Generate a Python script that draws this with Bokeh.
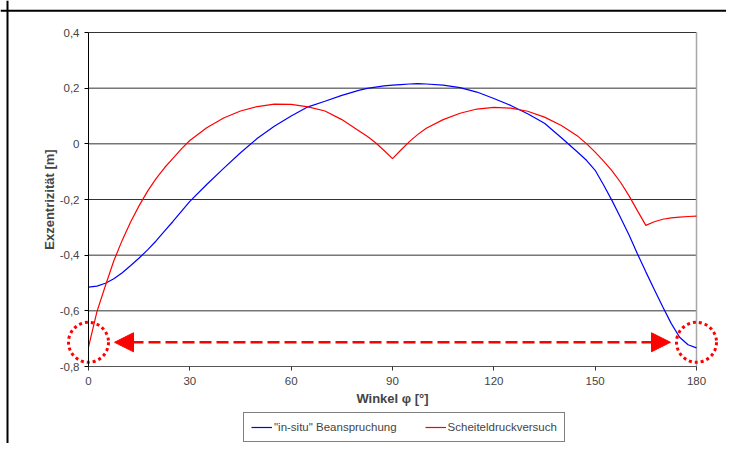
from bokeh.plotting import figure
from bokeh.models import (Range1d, FixedTicker, CustomJSTickFormatter, Legend, LegendItem,
                          Arrow, NormalHead, Span)
from bokeh.embed import file_html
from bokeh.resources import INLINE

# ---------------- data ----------------
angles = [0, 2.5, 5, 7.5, 10, 12.5, 15, 17.5, 20, 22.5, 25, 27.5, 30,
          35, 40, 45, 50, 55, 60, 65, 70, 75, 80,
          82.5, 85, 87.5, 90, 92.5, 95, 97.5, 100,
          105, 110, 115, 120, 125, 130, 135, 140, 145,
          147.5, 150, 152.5, 155, 157.5, 160, 162.5, 165, 167.5, 170, 172.5, 175, 177.5, 180]

in_situ = [-0.515, -0.511, -0.501, -0.485, -0.463, -0.437, -0.410, -0.381, -0.349, -0.314,
           -0.279, -0.243, -0.207,
           -0.146, -0.088, -0.032, 0.020, 0.063, 0.100, 0.133, 0.153, 0.174, 0.192,
           0.199, 0.204, 0.208, 0.211, 0.213, 0.215, 0.216, 0.215,
           0.211, 0.202, 0.186, 0.163, 0.138, 0.108, 0.074, 0.022, -0.032,
           -0.060, -0.095, -0.148, -0.204, -0.265, -0.327, -0.395, -0.460, -0.523, -0.585,
           -0.645, -0.695, -0.722, -0.733]

scheitel = [-0.730, -0.603, -0.510, -0.420, -0.346, -0.280, -0.222, -0.170, -0.125, -0.086,
            -0.052, -0.018, 0.012,
            0.058, 0.093, 0.118, 0.134, 0.143, 0.142, 0.133, 0.118, 0.087, 0.047,
            0.027, 0.004, -0.024, -0.053, -0.022, 0.008, 0.034, 0.056,
            0.087, 0.110, 0.125, 0.131, 0.128, 0.117, 0.096, 0.066, 0.026,
            0.000, -0.030, -0.062, -0.097, -0.138, -0.186, -0.240, -0.293, -0.280, -0.271,
            -0.266, -0.263, -0.261, -0.260]

x_ticks = [0, 30, 60, 90, 120, 150, 180]
y_ticks = [-0.8, -0.6, -0.4, -0.2, 0.0, 0.2, 0.4]
grid_levels = [-0.6, -0.4, -0.2, 0.0, 0.2, 0.4]

series_names = ['"in-situ" Beanspruchung', 'Scheiteldruckversuch']

# annotation: marked ends and double arrow
mark_x = [0, 180]
mark_y = [-0.713, -0.713]
arrow_x = [7.7, 172.3]
arrow_y = -0.713

FONT = "Liberation Sans"

# ---------------- layout (pixels) ----------------
W, H = 726, 443
PX0, PX1 = 88, 696         # canvas x of angle 0 and 180
PY_TOP, PY_BOT = 32, 366   # canvas y of 0.4 and -0.8
xs = (PX1 - PX0) / (x_ticks[-1] - x_ticks[0])
ys = (PY_BOT - PY_TOP) / (y_ticks[-1] - y_ticks[0])
x_start = x_ticks[0] - PX0 / xs
x_end = x_ticks[-1] + (W - PX1) / xs
y_end = y_ticks[-1] + PY_TOP / ys
y_start = y_ticks[0] - (H - PY_BOT) / ys

p = figure(width=W, height=H,
           x_range=Range1d(x_start, x_end), y_range=Range1d(y_start, y_end),
           min_border=0, min_border_left=0, min_border_right=0,
           min_border_top=0, min_border_bottom=0,
           output_backend="svg", toolbar_location=None,
           background_fill_color="white", border_fill_color="white")
p.outline_line_color = None
p.xgrid.visible = False
p.ygrid.visible = False

# outer chart border (left and top visible)
p.add_layout(Span(location=x_start + 7.0 / xs, dimension="height",
                  line_color="black", line_width=2))
p.add_layout(Span(location=y_end - 10.3 / ys, dimension="width",
                  line_color="black", line_width=2))

# grid lines (only between 0 and 180)
p.segment(x0=[x_ticks[0]] * len(grid_levels), x1=[x_ticks[-1]] * len(grid_levels),
          y0=grid_levels, y1=grid_levels, line_color="#333333", line_width=1)
# right border of plot area
p.segment(x0=[x_ticks[-1]], x1=[x_ticks[-1]], y0=[y_ticks[0]], y1=[y_ticks[-1]],
          line_color="#a8a8a8", line_width=1.5)

r_blue = p.line(angles, in_situ, line_color="#0000FF", line_width=1.2)
r_red = p.line(angles, scheitel, line_color="#FF0000", line_width=1.2)

# dotted circles
p.scatter(mark_x, mark_y, marker="circle", size=40, fill_color=None,
          line_color="#FF0000", line_width=3, line_dash="3 3")

# double arrow
p.add_layout(Arrow(x_start=arrow_x[0], y_start=arrow_y, x_end=arrow_x[1], y_end=arrow_y,
                   line_color="#FF0000", line_width=2.5, line_dash="12 5",
                   start=NormalHead(size=19, fill_color="#FF0000", line_color="#FF0000"),
                   end=NormalHead(size=19, fill_color="#FF0000", line_color="#FF0000")))

# axes
xa = p.xaxis[0]
xa.fixed_location = y_ticks[0]
xa.ticker = FixedTicker(ticks=x_ticks)
xa.bounds = (x_ticks[0], x_ticks[-1])
xa.axis_label = "Winkel φ [°]"
xa.axis_line_color = "#555555"
xa.major_tick_line_color = "#333333"
xa.major_tick_in = 0
xa.major_tick_out = 4
xa.minor_tick_line_color = None
xa.major_label_text_font = FONT
xa.major_label_text_font_size = "11.5px"
xa.major_label_standoff = 6
xa.axis_label_text_font = FONT
xa.axis_label_text_font_size = "13px"
xa.axis_label_text_font_style = "bold"
xa.axis_label_standoff = 3

ya = p.yaxis[0]
ya.fixed_location = x_ticks[0]
ya.ticker = FixedTicker(ticks=y_ticks)
ya.bounds = (y_ticks[0], y_ticks[-1])
ya.formatter = CustomJSTickFormatter(code="""
    if (Math.abs(tick) < 1e-9) { return "0"; }
    return tick.toFixed(1).replace('.', ',');
""")
ya.axis_label = "Exzentrizität [m]"
ya.axis_line_color = "#000000"
ya.major_tick_line_color = "#000000"
ya.major_tick_in = 0
ya.major_tick_out = 4
ya.minor_tick_line_color = None
ya.major_label_text_font = FONT
ya.major_label_text_font_size = "11.5px"
ya.major_label_standoff = 5
ya.axis_label_text_font = FONT
ya.axis_label_text_font_size = "13px"
ya.axis_label_text_font_style = "bold"
ya.axis_label_standoff = 0

legend = Legend(items=[LegendItem(label=series_names[0], renderers=[r_blue]),
                       LegendItem(label=series_names[1], renderers=[r_red])],
                orientation="horizontal", location=(243, 1))
legend.border_line_color = "#000000"
legend.border_line_width = 1
legend.background_fill_color = "white"
legend.background_fill_alpha = 1
legend.label_text_font = FONT
legend.label_text_font_size = "11.5px"
legend.glyph_width = 21
legend.glyph_height = 14
legend.label_height = 14
legend.label_standoff = 2
legend.spacing = 28
legend.padding = 7
legend.margin = 0
p.add_layout(legend, "center")

open("out.html", "w").write(file_html(p, INLINE))
